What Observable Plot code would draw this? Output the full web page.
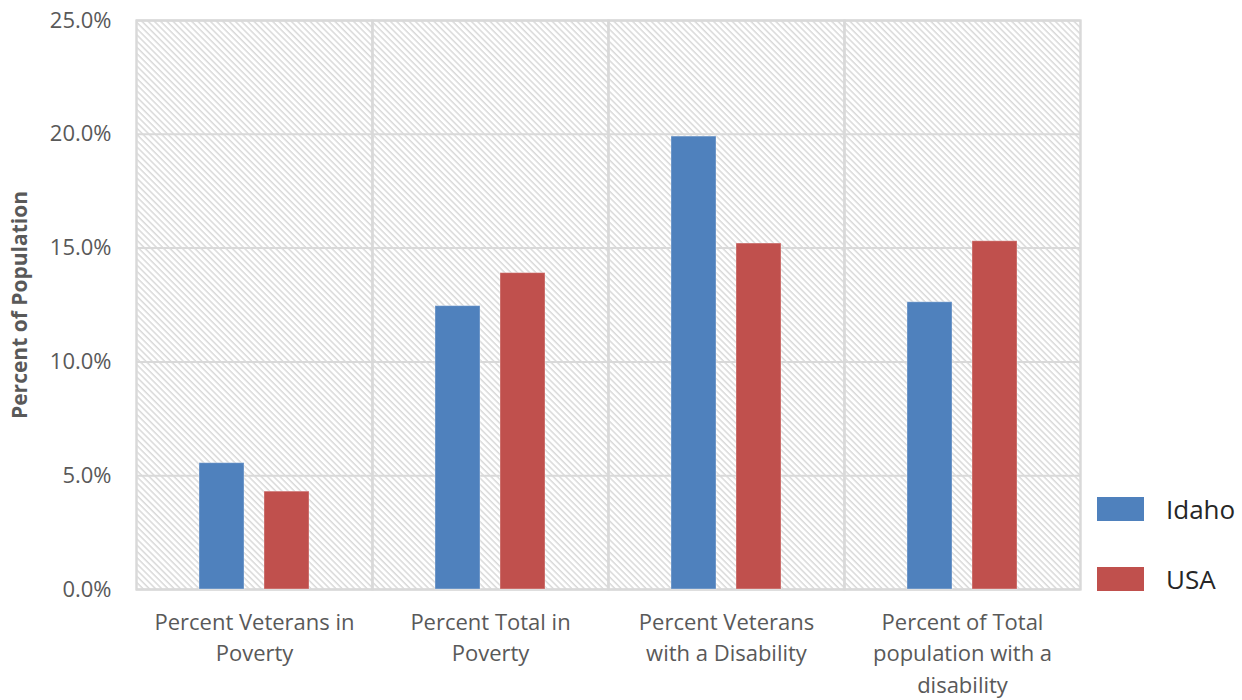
<!DOCTYPE html>
<html>
<head>
<meta charset="utf-8">
<script src="https://cdn.jsdelivr.net/npm/d3@7"></script>
<script src="https://cdn.jsdelivr.net/npm/@observablehq/plot@0.6"></script>
<style>
  html, body { margin: 0; padding: 0; background: #fff; }
  #wrap { position: relative; width: 1242px; height: 700px; font-family: "Open Sans", sans-serif; }
  .sw { position: absolute; width: 47px; height: 24px; }
  .lt { position: absolute; font-size: 26px; color: #262626; line-height: 24px; }
</style>
</head>
<body>
<div id="wrap"></div>
<script>
const categories = [
  "Percent Veterans in\nPoverty",
  "Percent Total in\nPoverty",
  "Percent Veterans\nwith a Disability",
  "Percent of Total\npopulation with a\ndisability"
];
const series = ["Idaho", "USA"];
const idahoValues = [0.0555, 0.1245, 0.199, 0.1262];
const usaValues = [0.043, 0.139, 0.152, 0.153];
const colors = ["#4f81bd", "#c0504d"];
const yTicks = [0, 0.05, 0.10, 0.15, 0.20, 0.25];

const data = [];
categories.forEach((c, i) => {
  data.push({category: c, series: "Idaho", value: idahoValues[i]});
  data.push({category: c, series: "USA", value: usaValues[i]});
});

const chart = Plot.plot({
  width: 1242,
  height: 700,
  marginLeft: 135,
  marginRight: 162,
  marginTop: 20,
  marginBottom: 111,
  style: {fontFamily: "'Open Sans', sans-serif", background: "#fff"},
  fx: {domain: categories, padding: 0, label: null},
  x: {domain: series, paddingInner: 0.303, paddingOuter: 0.94, axis: null},
  y: {domain: [0, 0.25], label: null},
  color: {domain: series, range: colors},
  marks: [
    Plot.frame({fill: "url(#hatch)", stroke: "#d9d9d9", strokeWidth: 2}),
    Plot.gridY(yTicks, {stroke: "#d9d9d9", strokeOpacity: 1, strokeWidth: 2}),
    Plot.frame({stroke: "#d9d9d9", strokeWidth: 2}),
    Plot.barY(data, {fx: "category", x: "series", y: "value", fill: "series", stroke: "#ffffff", strokeOpacity: 0.35, strokeWidth: 1}),
    Plot.axisY(yTicks, {
      tickSize: 0, tickPadding: 25, tickFormat: d3.format(".1%"),
      fontSize: 22, fill: "#595959",
      label: "Percent of Population", labelArrow: "none", labelAnchor: "center", labelOffset: 124
    }),
    Plot.axisFx({
      anchor: "bottom", tickSize: 0, tickPadding: 18, fontSize: 22, fill: "#595959",
      lineHeight: 1.43, label: null
    })
  ]
});

const svg = d3.select(chart);
const defs = svg.insert("defs", ":first-child");
const pat = defs.append("pattern")
  .attr("id", "hatch").attr("patternUnits", "userSpaceOnUse")
  .attr("width", 4.4).attr("height", 4.4)
  .attr("patternTransform", "rotate(-45)");
pat.append("rect").attr("width", 4.4).attr("height", 4.4).attr("fill", "#ffffff");
pat.append("line").attr("x1", 1).attr("y1", 0).attr("x2", 1).attr("y2", 4.4)
  .attr("stroke", "#d6d6d6").attr("stroke-width", 1.4);

svg.selectAll("g[aria-label='y-axis label'] text")
  .attr("font-weight", "bold").attr("font-size", 21).attr("fill", "#595959");

const wrap = document.getElementById("wrap");
wrap.appendChild(chart);
chart.style.position = "absolute";
chart.style.left = "0";
chart.style.top = "0";

const legendTops = [497, 567];
series.forEach((s, i) => {
  const sw = document.createElement("div");
  sw.className = "sw";
  sw.style.left = "1097px";
  sw.style.top = legendTops[i] + "px";
  sw.style.background = colors[i];
  wrap.appendChild(sw);
  const t = document.createElement("div");
  t.className = "lt";
  t.style.left = "1166px";
  t.style.top = legendTops[i] + "px";
  t.textContent = s;
  wrap.appendChild(t);
});
</script>
</body>
</html>
